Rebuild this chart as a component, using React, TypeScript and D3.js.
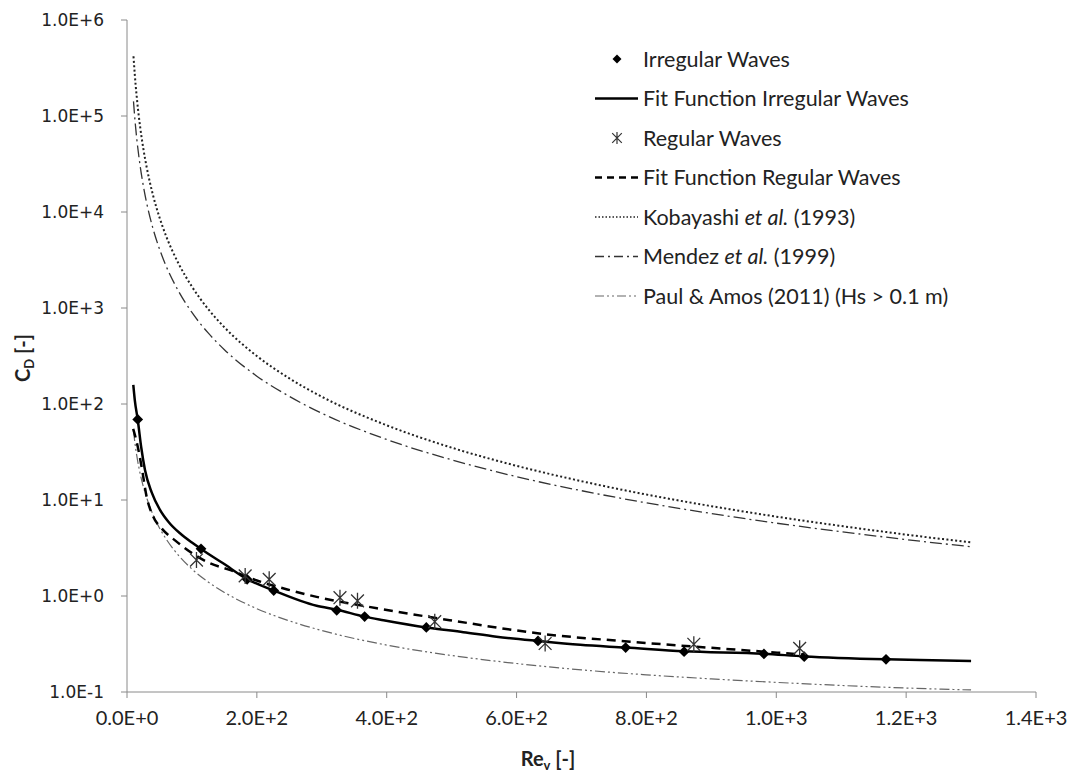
import React from "react";
import * as d3 from "d3";

// axis ticks
const xTicks = [0, 200, 400, 600, 800, 1000, 1200, 1400];
const xTickLabels = ["0.0E+0", "2.0E+2", "4.0E+2", "6.0E+2", "8.0E+2", "1.0E+3", "1.2E+3", "1.4E+3"];
const yTicks = [0.1, 1, 10, 100, 1e3, 1e4, 1e5, 1e6];
const yTickLabels = ["1.0E-1", "1.0E+0", "1.0E+1", "1.0E+2", "1.0E+3", "1.0E+4", "1.0E+5", "1.0E+6"];

// measured points
const irregularRe = [16.5, 114, 185, 226, 323, 366, 461, 633, 768, 858, 981, 1043, 1169];
const irregularCd = [69, 3.1, 1.49, 1.14, 0.71, 0.61, 0.47, 0.34, 0.29, 0.263, 0.249, 0.233, 0.219];
const regularRe = [107, 182, 219, 328, 355, 474, 644, 873, 1036];
const regularCd = [2.37, 1.62, 1.49, 0.96, 0.89, 0.54, 0.32, 0.314, 0.285];

// fit functions
const fitIrregularRe = [9.7, 12, 16.5, 22, 27.7, 38, 50.8, 65, 81.6, 100, 114, 148, 185, 226, 292, 323, 366, 395, 461, 518, 569, 633, 698, 768, 858, 981, 1043, 1169, 1221, 1300];
const fitIrregularCd = [158, 110, 69, 35, 20.5, 12, 7.9, 5.8, 4.5, 3.6, 3.09, 2.19, 1.5, 1.14, 0.79, 0.72, 0.61, 0.56, 0.47, 0.42, 0.377, 0.34, 0.31, 0.29, 0.265, 0.25, 0.235, 0.219, 0.215, 0.21];
const fitRegularRe = [9.5, 12, 15, 22.6, 30, 40.5, 54, 74, 100, 128, 158, 200, 251, 292, 385, 497, 644, 775, 929, 1045];
const fitRegularCd = [55, 48, 40, 22, 11, 6.7, 5.0, 3.8, 2.8, 2.19, 1.87, 1.45, 1.15, 0.98, 0.745, 0.56, 0.4, 0.334, 0.279, 0.245];

// literature curves
const modelRe = [10, 12, 15, 20, 25, 30, 40, 50, 60, 80, 100, 125, 150, 200, 250, 300, 400, 500, 600, 700, 800, 900, 1000, 1100, 1200, 1300];
const kobayashiCd = [4.19e5, 2.7e5, 1.58e5, 7.93e4, 4.64e4, 3.0e4, 1.5e4, 8.8e3, 5.67e3, 2.85e3, 1.67e3, 975, 629, 316, 185, 119, 60.0, 35.1, 22.7, 15.7, 11.4, 8.63, 6.71, 5.36, 4.36, 3.62];
const mendezCd = [1.42e5, 9.5e4, 5.83e4, 3.1e4, 1.9e4, 1.27e4, 6.74e3, 4.13e3, 2.76e3, 1.47e3, 898, 550, 368, 195, 120, 80.1, 42.7, 26.2, 17.5, 12.5, 9.34, 7.23, 5.74, 4.68, 3.87, 3.26];
const paulAmosCd = [52.3, 40.2, 29.1, 19.2, 13.9, 10.7, 7.06, 5.12, 3.95, 2.62, 1.91, 1.4, 1.09, 0.738, 0.551, 0.437, 0.308, 0.24, 0.198, 0.17, 0.151, 0.137, 0.126, 0.117, 0.11, 0.105];

const W = 1073;
const H = 775;
const left = 127, right = 1036, top = 20, bottom = 692;

const x = d3.scaleLinear().domain([0, 1400]).range([left, right]);
const y = d3.scaleLog().domain([0.1, 1e6]).range([bottom, top]);

const zip = (a: number[], b: number[]) => a.map((v, i) => [v, b[i]] as [number, number]);
const line = d3
  .line<[number, number]>()
  .x(d => x(d[0]))
  .y(d => y(d[1]))
  .curve(d3.curveMonotoneX);

const starPath = (cx: number, cy: number, r: number) =>
  `M${cx - r * 0.8},${cy - r * 0.8}L${cx + r * 0.8},${cy + r * 0.8}` +
  `M${cx + r * 0.8},${cy - r * 0.8}L${cx - r * 0.8},${cy + r * 0.8}` +
  `M${cx},${cy - r}L${cx},${cy + r}`;
const diamond = d3.symbol().type(d3.symbolSquare).size(58);

const styles = {
  fitIrr: { stroke: "#000", strokeWidth: 2.5, dash: "" },
  fitReg: { stroke: "#000", strokeWidth: 2.5, dash: "9 6" },
  kob: { stroke: "#222", strokeWidth: 2, dash: "2 2.4" },
  men: { stroke: "#333", strokeWidth: 1.3, dash: "12 4 2 4" },
  paul: { stroke: "#666", strokeWidth: 1.2, dash: "10 3 2 3 2 3" },
};

const legendFont = "Lato, 'Open Sans', sans-serif";

export default function App() {
  const legendX = 595;
  const rows = [59, 98.5, 138, 177.5, 217, 256.5, 296];
  return (
    <svg width={W} height={H} style={{ position: "absolute", left: 0, top: 0, background: "#fff" }}>
      <rect width={W} height={H} fill="#fff" />
      {/* axes */}
      <line x1={left} x2={left} y1={top} y2={bottom} stroke="#8a8a8a" />
      <line x1={left} x2={right} y1={bottom} y2={bottom} stroke="#8a8a8a" />
      {yTicks.map((t, i) => (
        <g key={"y" + i}>
          <line x1={left - 6} x2={left} y1={y(t)} y2={y(t)} stroke="#8a8a8a" />
          <text x={104} y={y(t)} dy="0.36em" textAnchor="end" fontFamily="'DejaVu Sans', sans-serif" fontSize={17} fill="#222">
            {yTickLabels[i]}
          </text>
        </g>
      ))}
      {xTicks.map((t, i) => (
        <g key={"x" + i}>
          <line x1={x(t)} x2={x(t)} y1={bottom} y2={bottom + 6} stroke="#8a8a8a" />
          <text x={x(t)} y={725} textAnchor="middle" fontFamily={legendFont} fontSize={20} fill="#222">
            {xTickLabels[i]}
          </text>
        </g>
      ))}
      <text x={548} y={766} textAnchor="middle" fontFamily={legendFont} fontSize={20} fontWeight="bold" fill="#222">
        Re<tspan dy={4} fontSize={13}>v</tspan>
        <tspan dy={-4}> [-]</tspan>
      </text>
      <text transform="translate(30,358) rotate(-90)" textAnchor="middle" fontFamily={legendFont} fontSize={20} fontWeight="bold" fill="#222">
        C<tspan dy={4} fontSize={13}>D</tspan>
        <tspan dy={-4}> [-]</tspan>
      </text>

      {/* curves */}
      <path d={line(zip(modelRe, kobayashiCd)) || ""} fill="none" stroke={styles.kob.stroke} strokeWidth={styles.kob.strokeWidth} strokeDasharray={styles.kob.dash} />
      <path d={line(zip(modelRe, mendezCd)) || ""} fill="none" stroke={styles.men.stroke} strokeWidth={styles.men.strokeWidth} strokeDasharray={styles.men.dash} />
      <path d={line(zip(modelRe, paulAmosCd)) || ""} fill="none" stroke={styles.paul.stroke} strokeWidth={styles.paul.strokeWidth} strokeDasharray={styles.paul.dash} />
      <path d={line(zip(fitRegularRe, fitRegularCd)) || ""} fill="none" stroke="#000" strokeWidth={styles.fitReg.strokeWidth} strokeDasharray={styles.fitReg.dash} />
      <path d={line(zip(fitIrregularRe, fitIrregularCd)) || ""} fill="none" stroke="#000" strokeWidth={styles.fitIrr.strokeWidth} />

      {/* points */}
      {irregularRe.map((r, i) => (
        <path key={"d" + i} d={diamond() || ""} transform={`translate(${x(r)},${y(irregularCd[i])}) rotate(45)`} fill="#000" />
      ))}
      {regularRe.map((r, i) => (
        <path key={"s" + i} d={starPath(x(r), y(regularCd[i]), 8)} stroke="#333" strokeWidth={1.3} fill="none" />
      ))}

      {/* legend */}
      <g fontFamily={legendFont} fontSize={21.5} fill="#222">
        <path d={d3.symbol().type(d3.symbolSquare).size(40)() || ""} transform={`translate(617,${rows[0]}) rotate(45)`} fill="#000" />
        <text x={643} y={rows[0]} dy="0.35em">Irregular Waves</text>

        <line x1={legendX} x2={638} y1={rows[1]} y2={rows[1]} stroke="#000" strokeWidth={2.5} />
        <text x={643} y={rows[1]} dy="0.35em">Fit Function Irregular Waves</text>

        <path d={starPath(617, rows[2], 6)} stroke="#333" strokeWidth={1.2} fill="none" />
        <text x={643} y={rows[2]} dy="0.35em">Regular Waves</text>

        <line x1={legendX} x2={638} y1={rows[3]} y2={rows[3]} stroke="#000" strokeWidth={2.5} strokeDasharray="7 5" />
        <text x={643} y={rows[3]} dy="0.35em">Fit Function Regular Waves</text>

        <line x1={legendX} x2={638} y1={rows[4]} y2={rows[4]} stroke={styles.kob.stroke} strokeWidth={1.5} strokeDasharray="1.5 2" />
        <text x={643} y={rows[4]} dy="0.35em">
          Kobayashi <tspan fontStyle="italic">et al.</tspan> (1993)
        </text>

        <line x1={legendX} x2={638} y1={rows[5]} y2={rows[5]} stroke={styles.men.stroke} strokeWidth={styles.men.strokeWidth} strokeDasharray="9 4 2 4" />
        <text x={643} y={rows[5]} dy="0.35em">
          Mendez <tspan fontStyle="italic">et al.</tspan> (1999)
        </text>

        <line x1={legendX} x2={638} y1={rows[6]} y2={rows[6]} stroke={styles.paul.stroke} strokeWidth={styles.paul.strokeWidth} strokeDasharray="9 3 2 3 2 3" />
        <text x={643} y={rows[6]} dy="0.35em">Paul &amp; Amos (2011) (Hs &gt; 0.1 m)</text>
      </g>
    </svg>
  );
}
